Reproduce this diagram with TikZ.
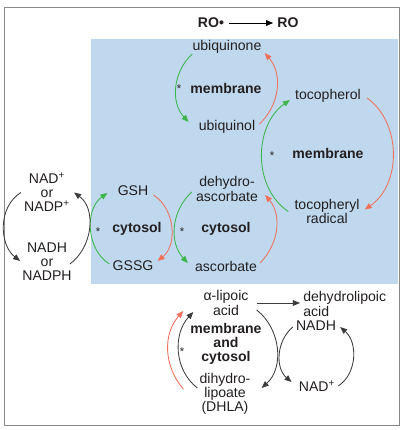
\documentclass[tikz,border=0pt]{standalone}
\usepackage{fontspec}
\setmainfont{Liberation Sans}
\usepackage{tikz}
\usetikzlibrary{arrows.meta}
\definecolor{cink}{HTML}{231F20}
\definecolor{cgrey}{HTML}{8A8A8A}
\definecolor{cblue}{HTML}{BFD8EE}
\definecolor{cgreen}{HTML}{3BB54A}
\definecolor{cred}{HTML}{F0705C}
\definecolor{cdark}{HTML}{3C3C3C}

\tikzset{
  lbl/.style={inner sep=0pt,align=center,text=cink,font=\fontsize{10}{10}\selectfont},
  bnode/.style={lbl,font=\fontsize{10}{10}\selectfont\bfseries},
  astx/.style={inner sep=0pt,text=cink,font=\footnotesize},
  tip/.style={-{Triangle[length=5pt,width=4pt]}},
  garc/.style={tip,cgreen,line width=0.6pt},
  rarc/.style={tip,cred,line width=0.6pt},
  karc/.style={tip,cdark,line width=0.6pt},
}

\begin{document}
\begin{tikzpicture}[x=0.025cm,y=0.025cm]
  \useasboundingbox (0,0) rectangle (403,430);
  \fill[cblue] (91,146) rectangle (398.5,391);
  \draw[cgrey,line width=0.6pt] (4,5) rectangle (399,423);

  % RO. -> RO
  \node[bnode] (ro1) at (211,407) {RO•};
  \node[bnode] (ro2) at (288,407) {RO};
  \draw[karc,black] ([shift={(5,0)}]ro1.east) -- ([shift={(-4,0)}]ro2.west);

  % ubiquinone cycle
  \node[lbl] (ubqne) at (227,383) {ubiquinone};
  \node[bnode] (mem1) at (226,342) {membrane};
  \node[astx] (st1) at (179,341) {*};
  \node[lbl] (ubql) at (227,303) {ubiquinol};
  \draw[garc] (ubqne.south west) to[out=223,in=133] ([shift={(-10,5)}]ubql.west);
  \draw[rarc] ([shift={(4,3)}]ubql.east) to[out=43,in=-49] ([shift={(3,-6)}]ubqne.east);

  % tocopherol cycle
  \node[lbl] (toco) at (328,334) {tocopherol};
  \node[bnode] (mem2) at (328,277) {membrane};
  \node[astx] (st2) at (272,274) {*};
  \node[lbl] (tocrad) at (327,218.5) {tocopheryl\\radical};
  \draw[garc] ([shift={(-6,0)}]tocrad.west) to[out=146,in=215] ([shift={(-5,-4)}]toco.west);
  \draw[rarc] ([shift={(6,-2)}]toco.east) to[out=-36,in=34] ([shift={(5,2)}]tocrad.east);

  % glutathione cycle
  \node[lbl] (gsh) at (133,239) {GSH};
  \node[bnode] (cyt1) at (137,201) {cytosol};
  \node[astx] (st3) at (98,198) {*};
  \node[lbl] (gssg) at (133,164) {GSSG};
  \draw[garc] ([shift={(-3,2)}]gssg.west) to[out=148,in=215] ([shift={(-10,-2)}]gsh.west);
  \draw[rarc] ([shift={(5,-4)}]gsh.east) to[out=-33,in=39] ([shift={(4,5)}]gssg.east);

  % ascorbate cycle
  \node[lbl] (dha) at (227,241) {dehydro-\\ascorbate};
  \node[bnode] (cyt2) at (226,201) {cytosol};
  \node[astx] (st4) at (182,198) {*};
  \node[lbl] (asc) at (226,164) {ascorbate};
  \draw[garc] ([shift={(-4,-3)}]dha.west) to[out=222,in=133] ([shift={(-7,3)}]asc.west);
  \draw[rarc] ([shift={(3,3)}]asc.east) to[out=46,in=310] ([shift={(7,-6)}]dha.east);

  % NAD(P)
  \node[lbl] (nadp) at (47,237.5) {NAD\textsuperscript{+}\\or\\NADP\textsuperscript{+}};
  \node[lbl] (nadph) at (47,168) {NADH\\or\\NADPH};
  \draw[karc] ([shift={(-3,0)}]nadp.west) to[out=211,in=142] ([shift={(-2,1)}]nadph.west);
  \draw[karc] ([shift={(-2,-2)}]nadph.east) to[out=36,in=324] ([shift={(4,0)}]nadp.east);

  % lipoic acid cycle
  \node[lbl] (lip) at (226,127) {α-lipoic\\acid};
  \node[bnode] (mc) at (226,86) {membrane\\and\\cytosol};
  \node[astx] (st5) at (182,78) {*};
  \node[lbl] (dhla) at (225,36) {dihydro-\\lipoate\\(DHLA)};
  \draw[karc] ([shift={(-2,6)}]dhla.west) to[out=142,in=227] ([shift={(-10,-9)}]lip.west);
  \draw[rarc] ([shift={(-16,5)}]dhla.west) to[out=131,in=228] ([shift={(-20,-8)}]lip.west);
  \draw[karc] ([shift={(8,-7)}]lip.east) to[out=-38,in=42] ([shift={(11,6)}]dhla.east);

  % dehydrolipoic acid, NADH
  \node[lbl,anchor=west,align=left] (dhl) at (303,126) {dehydrolipoic\\acid};
  \node[lbl] (nadh) at (316,104) {NADH};
  \node[lbl] (nad) at (317,44) {NAD\textsuperscript{+}};
  \draw[karc] ([shift={(8,0)}]lip.east) -- ([shift={(-3,0)}]lip.east -| dhl.west);
  \draw[karc] ([shift={(-3,-1)}]nadh.west) to[out=220,in=140] ([shift={(-7,4)}]nad.west);
  \draw[karc] ([shift={(3,0)}]nad.east) to[out=34,in=319] ([shift={(4,-1)}]nadh.east);
\end{tikzpicture}
\end{document}
